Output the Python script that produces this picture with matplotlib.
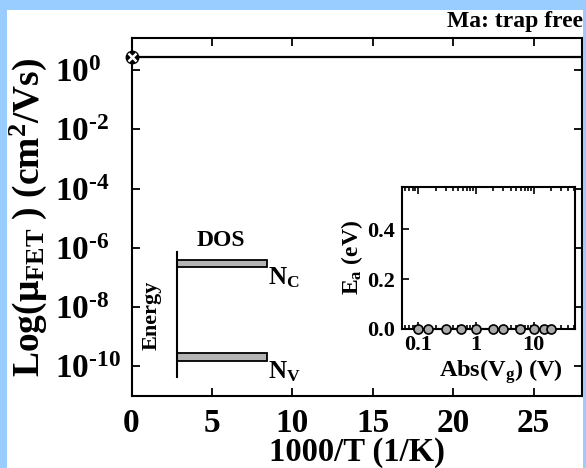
import matplotlib
matplotlib.use('Agg')
import matplotlib.pyplot as plt
from matplotlib.patches import Rectangle
from matplotlib.ticker import FixedLocator, FixedFormatter, LogLocator, NullFormatter

plt.rcParams['font.family'] = 'Liberation Serif'
plt.rcParams['font.weight'] = 'bold'
plt.rcParams['axes.labelweight'] = 'bold'
plt.rcParams['mathtext.fontset'] = 'custom'
plt.rcParams['mathtext.rm'] = 'Liberation Serif:bold'
plt.rcParams['mathtext.it'] = 'Liberation Serif:bold'
plt.rcParams['mathtext.bf'] = 'Liberation Serif:bold'

# main panel: trap free mobility vs 1000/T
inv_T = [0, 5, 10, 15, 20, 25, 30]
mu_fet = [2.7, 2.7, 2.7, 2.7, 2.7, 2.7, 2.7]
y_ticks = [1e0, 1e-2, 1e-4, 1e-6, 1e-8, 1e-10]
y_ticklabels = ['10$^{0}$', '10$^{\\text{-}2}$', '10$^{\\text{-}4}$',
                '10$^{\\text{-}6}$', '10$^{\\text{-}8}$', '10$^{\\text{-}10}$']
x_ticks = [0, 5, 10, 15, 20, 25]

# inset: activation energy vs |Vg|
vg_abs = [0.1, 0.15, 0.3, 0.55, 1.0, 2.0, 3.0, 5.7, 10, 15, 20]
ea = [0.0, 0.0, 0.0, 0.0, 0.0, 0.0, 0.0, 0.0, 0.0, 0.0, 0.0]

W, H = 586, 468
fig = plt.figure(figsize=(W / 100, H / 100), dpi=100)
fig.patch.set_facecolor('white')

def fx(px):
    return px / W

def fy(py):
    return 1 - py / H

# light blue frame
blue = '#99ccff'
for (x0, y0, x1, y1) in [(0, 0, 7, H), (0, 0, W, 10), (583, 0, W, H)]:
    fig.patches.append(Rectangle((fx(x0), fy(y1)), fx(x1) - fx(x0), fy(y0) - fy(y1),
                                 transform=fig.transFigure, facecolor=blue,
                                 edgecolor='none', zorder=20))

L, R, T, B = 131.5, 582, 38, 396
ax = fig.add_axes([fx(L), fy(B), fx(R) - fx(L), fy(T) - fy(B)])
ax.plot(inv_T, mu_fet, color='black', lw=1.6, zorder=3)
ax.plot(inv_T[0], mu_fet[0], 'o', color='black', ms=9, clip_on=False, zorder=4)
ax.plot(inv_T[0], mu_fet[0], 'x', color='white', ms=5.5, mew=1.8, clip_on=False, zorder=5)
ax.set_yscale('log')
ax.set_xlim(0, 28)
ax.set_ylim(1e-11, 10 ** 1.08)
ax.yaxis.set_major_locator(FixedLocator(y_ticks))
ax.yaxis.set_major_formatter(FixedFormatter(y_ticklabels))
ax.yaxis.set_minor_locator(FixedLocator([]))
ax.set_xticks(x_ticks)
ax.tick_params(which='both', direction='in', top=True, right=True,
               length=6, width=1.3, labelsize=24)
ax.tick_params(axis='y', pad=55)
ax.tick_params(axis='x', pad=9)
plt.setp(ax.get_yticklabels(), ha='left')
for s in ax.spines.values():
    s.set_linewidth(1.5)
ax.set_xlabel('1000/T (1/K)', fontsize=23.5, va='center')
ax.xaxis.set_label_coords(0.5, (B - 452) / (B - T))
ax.set_ylabel('Log(μ$_{FET}$ ) (cm$^{2}$/Vs)', fontsize=27, va='center')
ax.yaxis.set_label_coords((28 - L) / (R - L), 0.5)

# DOS sketch
def ax_pt(px, py):
    return (px - L) / (R - L), (B - py) / (B - T)

x0, y0 = ax_pt(177, 252)
x1, y1 = ax_pt(177, 377)
ax.plot([x0, x1], [y0, y1], color='black', lw=1.5, transform=ax.transAxes)
for (ytop, ybot) in [(260, 267), (353, 361)]:
    bx, by = ax_pt(177, ybot)
    ex, ey = ax_pt(267, ytop)
    ax.add_patch(Rectangle((bx, by), ex - bx, ey - by, transform=ax.transAxes,
                           facecolor='#b4b4b4', edgecolor='black', lw=1.3))
tx, ty = ax_pt(221, 240)
ax.text(tx, ty, 'DOS', transform=ax.transAxes, ha='center', va='center', fontsize=17)
tx, ty = ax_pt(152, 315)
ax.text(tx, ty, 'Energy', transform=ax.transAxes, ha='center', va='center',
        fontsize=16, rotation=90)
tx, ty = ax_pt(268, 278)
ax.text(tx, ty, 'N$_{C}$', transform=ax.transAxes, ha='left', va='center', fontsize=18)
tx, ty = ax_pt(268, 372)
ax.text(tx, ty, 'N$_{V}$', transform=ax.transAxes, ha='left', va='center', fontsize=18)

fig.text(fx(447), fy(27), 'Ma: trap free', ha='left', va='baseline', fontsize=17)

# inset
iL, iR, iT, iB = 402, 575, 187, 329
ins = fig.add_axes([fx(iL), fy(iB), fx(iR) - fx(iL), fy(iT) - fy(iB)])
ins.plot(vg_abs, ea, 'o-', color='black', mfc='#aaaaaa', mec='black', ms=6.5,
         mew=1.2, lw=1.5, clip_on=False, zorder=3)
ins.set_xscale('log')
ins.set_xlim(0.0526, 52)
ins.set_ylim(0, 0.57)
ins.xaxis.set_major_locator(FixedLocator([0.1, 1, 10]))
ins.xaxis.set_major_formatter(FixedFormatter(['0.1', '1', '10']))
ins.xaxis.set_minor_locator(LogLocator(base=10, subs=range(2, 10)))
ins.xaxis.set_minor_formatter(NullFormatter())
ins.set_yticks([0.0, 0.2, 0.4])
ins.set_yticklabels(['0.0', '0.2', '0.4'])
ins.tick_params(which='both', direction='in', top=True, labelsize=16, width=1.2)
ins.tick_params(which='major', length=5)
ins.tick_params(which='minor', length=3)
ins.tick_params(axis='y', pad=5)
ins.tick_params(axis='x', pad=4)
for s in ins.spines.values():
    s.set_linewidth(1.5)
ins.set_xlabel('Abs(V$_{g}$) (V)', fontsize=17.5, va='center')
ins.xaxis.set_label_coords((501 - iL) / (iR - iL), (iB - 372) / (iB - iT))
ins.set_ylabel('E$_{a}$ (eV)', fontsize=17, va='center')
ins.yaxis.set_label_coords((352 - iL) / (iR - iL), 0.5)

fig.savefig('out.png', dpi=100)
